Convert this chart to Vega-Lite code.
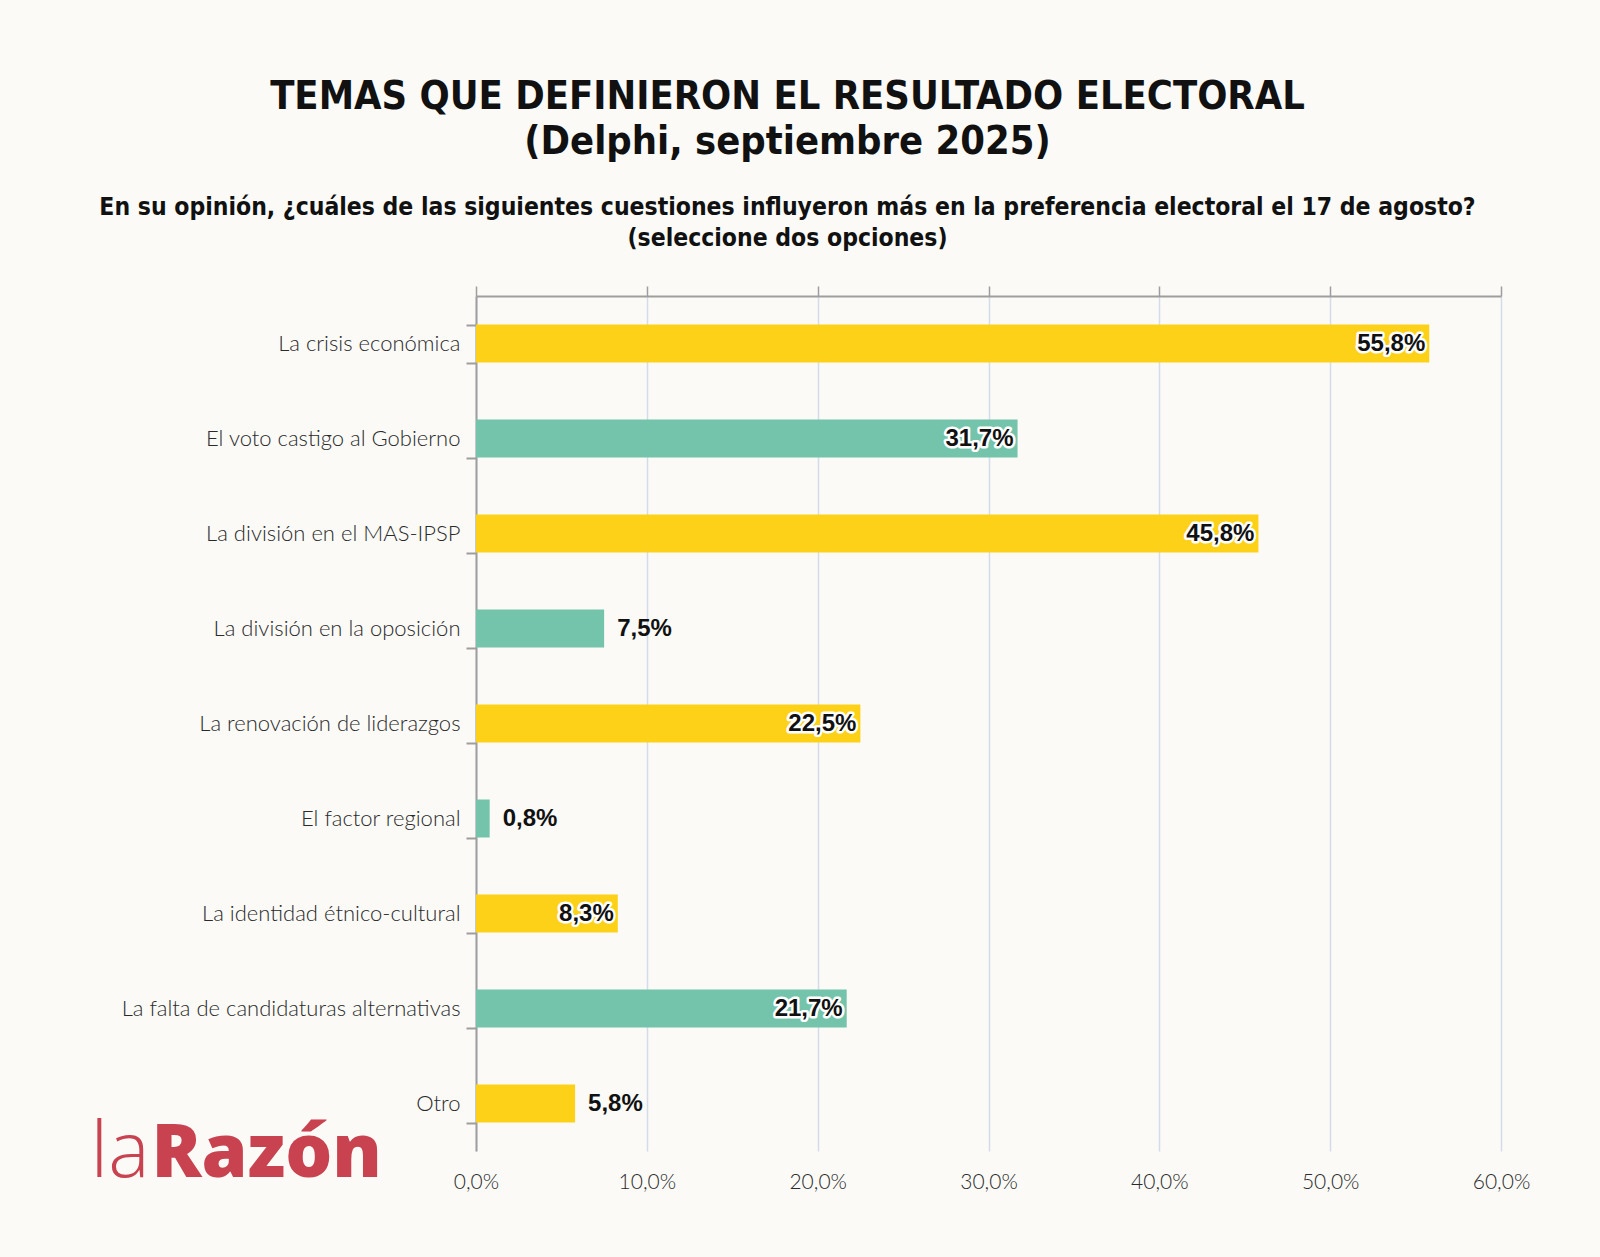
{
  "$schema": "https://vega.github.io/schema/vega-lite/v6.json",
  "width": 1025,
  "height": 855,
  "autosize": {"type": "none"},
  "padding": {"left": 476, "top": 296, "right": 99, "bottom": 106},
  "background": "#fbfaf7",
  "title": {
    "text": ["TEMAS QUE DEFINIERON EL RESULTADO ELECTORAL", "(Delphi, septiembre 2025)"],
    "subtitle": ["En su opinión, ¿cuáles de las siguientes cuestiones influyeron más en la preferencia electoral el 17 de agosto?", "(seleccione dos opciones)"],
    "anchor": "middle",
    "dx": -201,
    "offset": 34,
    "font": "DejaVu Sans Condensed",
    "fontSize": 39.5,
    "fontWeight": "bold",
    "lineHeight": 45,
    "color": "#111111",
    "subtitleFont": "DejaVu Sans Condensed",
    "subtitleFontSize": 24.5,
    "subtitleFontWeight": "bold",
    "subtitleLineHeight": 31,
    "subtitlePadding": 33,
    "subtitleColor": "#111111"
  },
  "data": {
    "values": [
      {"tema": "La crisis económica", "valor": 55.8},
      {"tema": "El voto castigo al Gobierno", "valor": 31.7},
      {"tema": "La división en el MAS-IPSP", "valor": 45.8},
      {"tema": "La división en la oposición", "valor": 7.5},
      {"tema": "La renovación de liderazgos", "valor": 22.5},
      {"tema": "El factor regional", "valor": 0.8},
      {"tema": "La identidad étnico-cultural", "valor": 8.3},
      {"tema": "La falta de candidaturas alternativas", "valor": 21.7},
      {"tema": "Otro", "valor": 5.8}
    ]
  },
  "encoding": {
    "y": {
      "field": "tema",
      "type": "nominal",
      "sort": null,
      "scale": {"paddingInner": 0.6, "paddingOuter": 0.3},
      "axis": {
        "title": "la",
        "titleAngle": 0,
        "titleX": -386,
        "titleY": 880,
        "titleAlign": "left",
        "titleBaseline": "alphabetic",
        "titleFont": "Open Sans",
        "titleFontWeight": 300,
        "titleFontSize": 78,
        "titleColor": "#c8424f",
        "domainColor": "#9e9e9e",
        "domainWidth": 2,
        "tickColor": "#9e9e9e",
        "tickWidth": 2,
        "tickSize": 10,
        "tickBand": "extent",
        "labelFont": "Lato",
        "labelFontWeight": 300,
        "labelFontSize": 22,
        "labelColor": "#2a2a2a",
        "labelPadding": 6,
        "labelLimit": 460
      }
    }
  },
  "layer": [
    {
      "mark": {"type": "bar"},
      "encoding": {
        "x": {
          "field": "valor",
          "type": "quantitative",
          "scale": {"domain": [0, 60], "nice": false},
          "axis": {
            "orient": "bottom",
            "values": [0, 10, 20, 30, 40, 50, 60],
            "format": "$.1f",
            "title": "Razón",
            "titleX": -325,
            "titleY": 25,
            "titleAlign": "left",
            "titleBaseline": "alphabetic",
            "titleFont": "Open Sans",
            "titleFontWeight": 800,
            "titleFontSize": 74,
            "titleColor": "#c8424f",
            "domain": false,
            "ticks": false,
            "tickSize": 0,
            "grid": true,
            "gridColor": "#d4dce9",
            "gridWidth": 1.5,
            "labelFlush": false,
            "labelFont": "Lato",
            "labelFontWeight": 300,
            "labelFontSize": 21,
            "labelColor": "#2a2a2a",
            "labelPadding": 20
          }
        },
        "color": {
          "field": "tema",
          "type": "nominal",
          "legend": null,
          "scale": {
            "domain": ["La crisis económica", "El voto castigo al Gobierno", "La división en el MAS-IPSP", "La división en la oposición", "La renovación de liderazgos", "El factor regional", "La identidad étnico-cultural", "La falta de candidaturas alternativas", "Otro"],
            "range": ["#fdd117", "#74c4ab", "#fdd117", "#74c4ab", "#fdd117", "#74c4ab", "#fdd117", "#74c4ab", "#fdd117"]
          }
        }
      }
    },
    {
      "transform": [{"filter": "datum.valor >= 8"}],
      "mark": {
        "type": "text",
        "align": "right",
        "baseline": "middle",
        "dx": -4,
        "font": "Liberation Sans",
        "fontWeight": "bold",
        "fontSize": 24,
        "fill": "#ffffff",
        "stroke": "#ffffff",
        "strokeWidth": 5,
        "strokeJoin": "round"
      },
      "encoding": {
        "x": {
          "field": "valor",
          "type": "quantitative",
          "axis": {
            "orient": "top",
            "values": [0, 10, 20, 30, 40, 50, 60],
            "title": null,
            "labels": false,
            "grid": false,
            "domain": true,
            "domainColor": "#9e9e9e",
            "domainWidth": 2,
            "ticks": true,
            "tickColor": "#9e9e9e",
            "tickWidth": 1.5,
            "tickSize": 10
          }
        },
        "text": {"field": "valor", "type": "quantitative", "format": "$.1f"}
      }
    },
    {
      "transform": [{"filter": "datum.valor >= 8"}],
      "mark": {
        "type": "text",
        "align": "right",
        "baseline": "middle",
        "dx": -4,
        "font": "Liberation Sans",
        "fontWeight": "bold",
        "fontSize": 24,
        "fill": "#111111"
      },
      "encoding": {
        "x": {"field": "valor", "type": "quantitative", "axis": null},
        "text": {"field": "valor", "type": "quantitative", "format": "$.1f"}
      }
    },
    {
      "transform": [{"filter": "datum.valor < 8"}],
      "mark": {
        "type": "text",
        "align": "left",
        "baseline": "middle",
        "dx": 13,
        "font": "Liberation Sans",
        "fontWeight": "bold",
        "fontSize": 24,
        "fill": "#111111"
      },
      "encoding": {
        "x": {"field": "valor", "type": "quantitative", "axis": null},
        "text": {"field": "valor", "type": "quantitative", "format": "$.1f"}
      }
    }
  ],
  "resolve": {"axis": {"x": "independent"}},
  "config": {
    "locale": {
      "number": {"decimal": ",", "thousands": ".", "grouping": [3], "currency": ["", "%"]}
    },
    "view": {"stroke": null}
  }
}
